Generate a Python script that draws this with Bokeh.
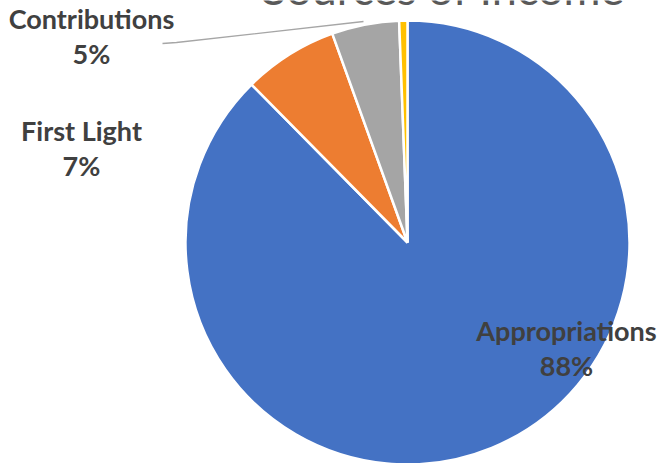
import numpy as np
from bokeh.plotting import figure
from bokeh.models import ColumnDataSource, Range1d
from bokeh.core.properties import value
from bokeh.embed import file_html
from bokeh.resources import INLINE

# ---- data ----
categories = ["Appropriations", "First Light", "Contributions", "Other"]
shares = [87.6, 6.9, 4.9, 0.6]
colors = ["#4472C4", "#ED7D31", "#A5A5A5", "#FFC000"]
title_text = "Sources of Income"

W, H = 661, 463

def px(x):
    return x

def py(y):
    return H - y

p = figure(width=W, height=H, output_backend="svg", toolbar_location=None,
           x_range=Range1d(0, W), y_range=Range1d(0, H),
           min_border=0, outline_line_color=None)
p.axis.visible = False
p.grid.visible = False

# pie geometry (layout)
cx, cy, r = px(407), py(242), 222

vals = np.array(shares, dtype=float)
frac = vals / vals.sum()
cum_end = np.cumsum(frac) * 2 * np.pi
cum_start = cum_end - frac * 2 * np.pi
start = np.pi / 2 - cum_start
end = np.pi / 2 - cum_end

src = ColumnDataSource(dict(cat=categories, start=start, end=end, color=colors))
p.wedge(x=cx, y=cy, radius=r, start_angle="start", end_angle="end",
        direction="clock", fill_color="color", line_color="white",
        line_width=2.5, source=src)

# title (partly cut off at the top, like the reference)
p.text(x=[px(443)], y=[py(-13)], text=[title_text], text_font=value("Lato"),
       text_font_size="45px", text_color="#595959", text_align="center",
       text_baseline="alphabetic")

# data labels
pct = [f"{round(v)}%" for v in shares]
label_pos = {"Appropriations": ((566, 330), (566, 365)),
             "First Light": ((81, 130), (81, 165)),
             "Contributions": ((91, 18), (91, 53))}
lx, ly, lt = [], [], []
for c, pc in zip(categories, pct):
    if c in label_pos:
        (x1, y1), (x2, y2) = label_pos[c]
        lx += [px(x1), px(x2)]
        ly += [py(y1), py(y2)]
        lt += [c, pc]
p.text(x=lx, y=ly, text=lt, text_font=value("Lato"), text_font_style="bold",
       text_font_size="27px", text_color="#404040", text_align="center",
       text_baseline="middle")

# leader line for Contributions
p.line(x=[px(162), px(176), px(363)], y=[py(43), py(42), py(21)],
       line_color="#A6A6A6", line_width=1.3)

open("out.html", "w").write(file_html(p, INLINE))
